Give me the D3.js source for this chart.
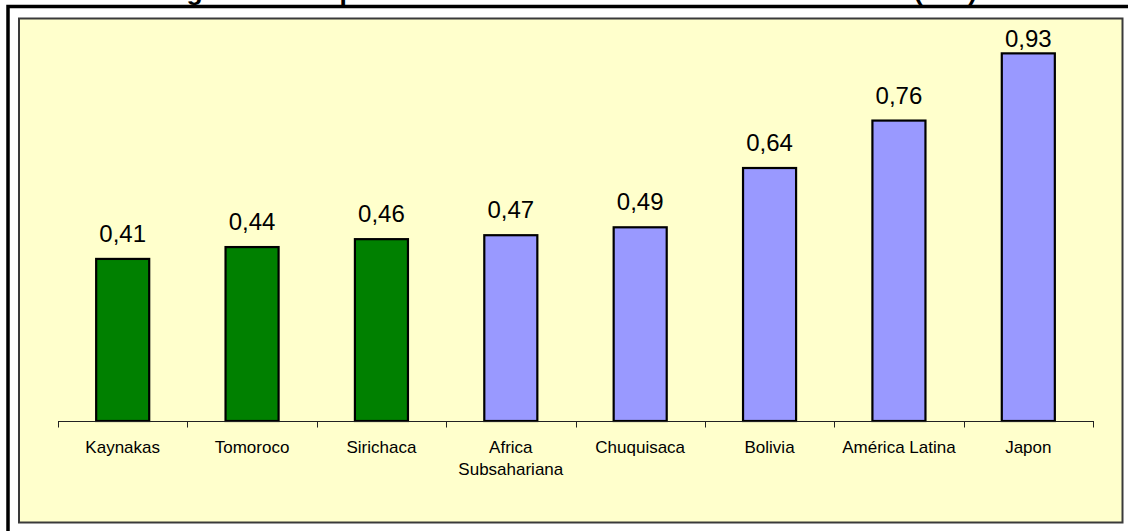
<!DOCTYPE html>
<html>
<head>
<meta charset="utf-8">
<script src="https://cdn.jsdelivr.net/npm/d3@7"></script>
<style>
  html, body { margin: 0; padding: 0; background: #ffffff; }
  svg { display: block; }
  text { font-family: Arial, "Liberation Sans", Helvetica, sans-serif; }
</style>
</head>
<body>
<svg id="chart" width="1128" height="531"></svg>
<script>
// Human Development Index comparison
const categories = ["Kaynakas", "Tomoroco", "Sirichaca", "Africa\nSubsahariana", "Chuquisaca", "Bolivia", "América Latina", "Japon"];
const idhValues = [0.41, 0.44, 0.46, 0.47, 0.49, 0.64, 0.76, 0.93];
const groups = ["local", "local", "local", "ref", "ref", "ref", "ref", "ref"];
const titleText = "Figura 1. Comparaciones de Índices de Desarrollo Humano (IDH)";

const W = 1128, H = 531;
const plot = { left: 58, right: 1093, baseline: 421, top: 25.7 };

const svg = d3.select("#chart");

// outer frame
svg.append("rect")
  .attr("x", 8).attr("y", 6.5)
  .attr("width", 1300).attr("height", 700)
  .attr("fill", "#ffffff")
  .attr("stroke", "#000000")
  .attr("stroke-width", 3.5);

// plot area
svg.append("rect")
  .attr("x", 19).attr("y", 18.5)
  .attr("width", 1103.5).attr("height", 504)
  .attr("fill", "#FFFFCC")
  .attr("stroke", "#3a3a3a")
  .attr("stroke-width", 2);

// title (sits above the frame)
svg.append("text")
  .attr("x", 570).attr("y", -0.5)
  .attr("text-anchor", "middle")
  .attr("font-size", 26.5)
  .attr("font-weight", "bold")
  .attr("fill", "#000")
  .text(titleText);

const x = d3.scaleBand()
  .domain(categories)
  .range([plot.left, plot.right])
  .padding(0);

const y = d3.scaleLinear()
  .domain([0, 1])
  .range([plot.baseline, plot.top]);

const color = d3.scaleOrdinal()
  .domain(["local", "ref"])
  .range(["#008000", "#9999FF"]);

const barW = x.bandwidth() * 0.41;
const data = categories.map((c, i) => ({ cat: c, v: idhValues[i], g: groups[i] }));

// bars
svg.append("g").selectAll("rect")
  .data(data)
  .join("rect")
  .attr("x", d => x(d.cat) + (x.bandwidth() - barW) / 2)
  .attr("y", d => y(d.v))
  .attr("width", barW)
  .attr("height", d => y(0) - y(d.v))
  .attr("fill", d => color(d.g))
  .attr("stroke", "#000")
  .attr("stroke-width", 2.2);

// value labels
const fmt = d3.formatLocale({ decimal: ",", thousands: ".", grouping: [3], currency: ["", ""] }).format(".2f");
svg.append("g").selectAll("text")
  .data(data)
  .join("text")
  .attr("x", d => x(d.cat) + x.bandwidth() / 2)
  .attr("y", d => Math.max(y(d.v) - 17, 46.5))
  .attr("text-anchor", "middle")
  .attr("font-size", 24)
  .attr("fill", "#000")
  .text(d => fmt(d.v));

// category axis with ticks between categories
const axisG = svg.append("g").attr("transform", `translate(0,${plot.baseline})`);
const edges = categories.map(c => x(c)).concat([plot.right]);
axisG.append("line")
  .attr("x1", plot.left).attr("x2", plot.right)
  .attr("y1", 0.5).attr("y2", 0.5)
  .attr("stroke", "#222").attr("stroke-width", 1);
axisG.selectAll("line.tick")
  .data(edges)
  .join("line")
  .attr("class", "tick")
  .attr("x1", d => Math.round(d) + 0.5).attr("x2", d => Math.round(d) + 0.5)
  .attr("y1", 0).attr("y2", 6.5)
  .attr("stroke", "#222").attr("stroke-width", 1);

const labels = axisG.selectAll("text.cat")
  .data(categories)
  .join("text")
  .attr("class", "cat")
  .attr("text-anchor", "middle")
  .attr("font-size", 17)
  .attr("fill", "#000")
  .attr("y", 32);
labels.each(function (c) {
  const t = d3.select(this);
  c.split("\n").forEach((line, i) => {
    t.append("tspan")
      .attr("x", x(c) + x.bandwidth() / 2)
      .attr("dy", i === 0 ? 0 : 22)
      .text(line);
  });
});
</script>
</body>
</html>
